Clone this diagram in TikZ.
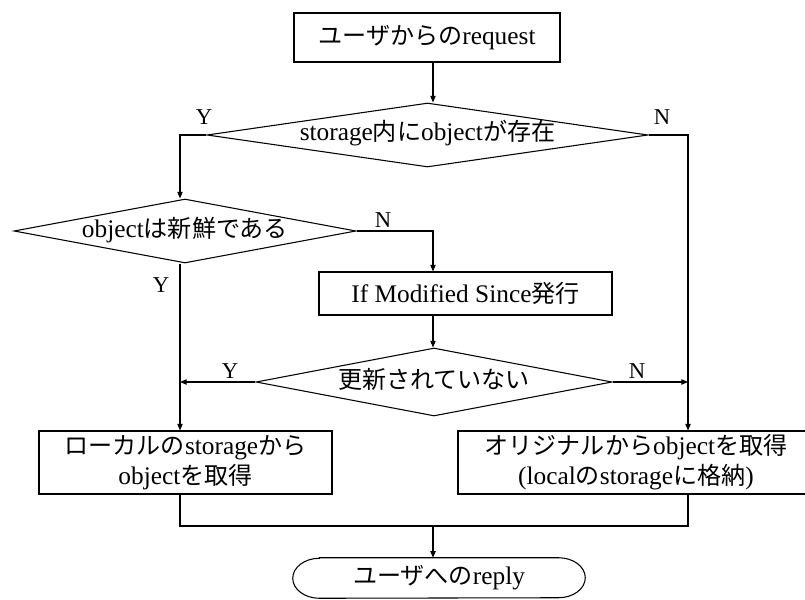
\documentclass[tikz,border=0pt]{standalone}
\usepackage{fontspec}
\setmainfont{Liberation Serif}
\newfontfamily\jpfont{Noto Sans CJK JP}[Scale=0.95]
\newcommand\J[1]{{\jpfont #1}}
\usetikzlibrary{shapes.geometric,arrows.meta}

\begin{document}
\begin{tikzpicture}[x=0.75pt,y=-0.75pt,
  every node/.style={font=\fontsize{19}{22.5}\selectfont},
  line/.style={draw, line width=0.8pt},
  arr/.style={line, -{Triangle[length=5pt,width=4pt]}},
  procbox/.style={draw, line width=0.8pt, rectangle, inner sep=0pt, align=center},
  decision/.style={draw, line width=0.8pt, diamond, inner sep=0pt,
    text height=12pt, text depth=3pt},
  yn/.style={inner sep=0pt, font=\fontsize{17}{20}\selectfont}
]
\useasboundingbox (0,0) rectangle (805,599);

% process boxes and decisions
\node[procbox, minimum width=199.5pt, minimum height=36.75pt] (start) at (427,37.5) {\J{ユーザからの}request};
\node[decision, aspect=6.9, minimum width=330.75pt, minimum height=48pt] (d1) at (427.5,135) {storage\J{内に}object\J{が存在}};
\node[decision, aspect=5.3, minimum width=256.5pt, minimum height=48pt] (d2) at (185,231) {object\J{は新鮮である}};
\node[procbox, minimum width=219.75pt, minimum height=32.25pt] (ims) at (465.5,293.5) {If Modified Since\J{発行}};
\node[decision, aspect=5.2, minimum width=267pt, minimum height=51pt] (d3) at (434,382) {\J{更新されていない}};
\node[procbox, minimum width=219.75pt, minimum height=47.25pt] (local) at (185.5,462.5) {\J{ローカルの}storage\J{から}\\object\J{を取得}};
\node[procbox, minimum width=267pt, minimum height=47.25pt] (orig) at (636,462.5) {\J{オリジナルから}object\J{を取得}\\(local\J{の}storage\J{に格納})};
\node[minimum width=219pt, minimum height=30pt, inner sep=0pt] (reply) at (439,578) {\J{ユーザへの}reply};
\draw[line] ([xshift=20pt]reply.north west) -- ([xshift=-20pt]reply.north east)
  arc[start angle=90, end angle=-90, x radius=20pt, y radius=15pt]
  -- ([xshift=20pt]reply.south west)
  arc[start angle=270, end angle=90, x radius=20pt, y radius=15pt] -- cycle;

% branch columns and merge point
\coordinate (lc) at (180,135);
\coordinate (rc) at (688,135);
\coordinate (mg) at (433,526);

% Y / N labels
\node[yn] (y1) at (204,117) {Y};
\node[yn] (n1) at (662,117) {N};
\node[yn] (n2) at (383,220) {N};
\node[yn] (y2) at (161,285) {Y};
\node[yn] (y3) at (230,371) {Y};
\node[yn] (n3) at (637,371) {N};

% connectors
\draw[arr] (start.south -| mg) -- (d1.north -| mg);
\draw[arr] (d1.west) -- (lc) -- (lc |- d2.north);
\draw[arr] (d1.east) -- (rc) -- (rc |- orig.north);
\draw[arr] (d2.east) -- (d2.east -| mg) -- (mg |- ims.north);
\draw[arr] (lc |- d2.south) -- (lc |- local.north);
\draw[arr] (mg |- ims.south) -- (mg |- d3.north);
\draw[arr] (d3.west) -- (d3.west -| lc);
\draw[arr] (d3.east) -- (d3.east -| rc);
\draw[line] (lc |- local.south) -- (lc |- mg) -- (rc |- mg) -- (rc |- orig.south);
\draw[arr] (mg) -- (mg |- reply.north);
\end{tikzpicture}
\end{document}
